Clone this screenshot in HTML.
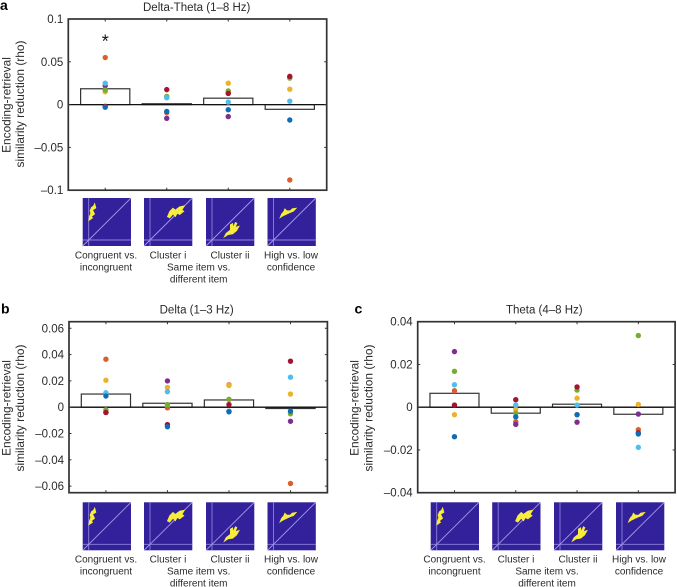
<!DOCTYPE html>
<html lang="en">
<head>
<meta charset="utf-8">
<title>Encoding-retrieval similarity reduction</title>
<style>
html,body{margin:0;padding:0;background:#fff;width:677px;height:587px;overflow:hidden}
svg{display:block;filter:blur(0.35px)}
text{font-family:"Liberation Sans",sans-serif;fill:#2a2a2a}
.cap{font-size:10px;text-anchor:middle}
.title{font-size:11.5px;text-anchor:middle}
.ylab{font-size:11.9px;text-anchor:middle}
.tick{font-size:11.5px;text-anchor:end}
.letter{font-size:14px;font-weight:bold;fill:#000}
</style>
</head>
<body>
<svg id="fig" xmlns="http://www.w3.org/2000/svg" width="677" height="587" viewBox="0 0 677 587">
  <g id="panel-a">
    <text class="letter" x="0" y="10">a</text>
    <text class="title" x="196.7" y="11">Delta-Theta (1–8 Hz)</text>
    <text class="ylab" transform="translate(10.5,105) rotate(-90)">Encoding-retrieval</text>
    <text class="ylab" transform="translate(24,104) rotate(-90)">similarity reduction (rho)</text>
    <text x="105.3" y="47.5" style="font-size:18px;text-anchor:middle;fill:#111">*</text>
    <text class="cap" x="106" y="258.3">Congruent vs.</text>
    <text class="cap" x="106" y="270.3">incongruent</text>
    <text class="cap" x="168" y="258.3">Cluster i</text>
    <text class="cap" x="230" y="258.3">Cluster ii</text>
    <text class="cap" x="198.7" y="270.3">Same item vs.</text>
    <text class="cap" x="198.7" y="282.3">different item</text>
    <text class="cap" x="291" y="258.3">High vs. low</text>
    <text class="cap" x="291" y="270.3">confidence</text>
  </g>
  <g id="panel-b">
    <text class="letter" x="1" y="313.5">b</text>
    <text class="title" x="196.7" y="313.7">Delta (1–3 Hz)</text>
    <text class="ylab" transform="translate(10.5,408) rotate(-90)">Encoding-retrieval</text>
    <text class="ylab" transform="translate(24,408) rotate(-90)">similarity reduction (rho)</text>
    <text class="cap" x="106" y="562.7">Congruent vs.</text>
    <text class="cap" x="106" y="574.7">incongruent</text>
    <text class="cap" x="168" y="562.7">Cluster i</text>
    <text class="cap" x="230" y="562.7">Cluster ii</text>
    <text class="cap" x="198.7" y="574.7">Same item vs.</text>
    <text class="cap" x="198.7" y="586.5">different item</text>
    <text class="cap" x="291" y="562.7">High vs. low</text>
    <text class="cap" x="291" y="574.7">confidence</text>
  </g>
  <g id="panel-c">
    <text class="letter" x="354.5" y="313.5">c</text>
    <text class="title" x="544.3" y="313.7">Theta (4–8 Hz)</text>
    <text class="ylab" transform="translate(358.7,408) rotate(-90)">Encoding-retrieval</text>
    <text class="ylab" transform="translate(372.5,408) rotate(-90)">similarity reduction (rho)</text>
    <text class="cap" x="454.5" y="562.7">Congruent vs.</text>
    <text class="cap" x="454.5" y="574.7">incongruent</text>
    <text class="cap" x="516" y="562.7">Cluster i</text>
    <text class="cap" x="578" y="562.7">Cluster ii</text>
    <text class="cap" x="547" y="574.7">Same item vs.</text>
    <text class="cap" x="547" y="586.5">different item</text>
    <text class="cap" x="639" y="562.7">High vs. low</text>
    <text class="cap" x="639" y="574.7">confidence</text>
  </g>
</svg>
<script>
// Data: one value per category (congruent, cluster i, cluster ii, high vs. low)
const categories = ['congruent', 'cluster-i', 'cluster-ii', 'high-low'];
const seriesNames = ['orange', 'yellow', 'purple', 'green', 'light-blue', 'dark-red', 'blue'];

const aBars = [0.0185, 0.001, 0.0075, -0.0055];
const aOrange = [0.055, -0.0095, 0.014, -0.088];
const aYellow = [0.015, 0.009, 0.025, 0.018];
const aPurple = [0.022, -0.016, -0.014, 0.032];
const aGreen = [0.017, 0.0095, 0.016, 0.031];
const aLightBlue = [0.025, 0.008, 0.003, 0.004];
const aDarkRed = [-0.002, 0.0175, 0.013, 0.033];
const aBlue = [-0.003, -0.008, -0.006, -0.018];
const aTickValues = [0.1, 0.05, 0, -0.05, -0.1];
const aTickLabels = ['0.1', '0.05', '0', '–0.05', '–0.1'];

const bBars = [0.01, 0.003, 0.0055, -0.001];
const bOrange = [0.0365, -0.0005, 0.017, -0.058];
const bYellow = [0.0205, 0.015, 0.0165, 0.01];
const bPurple = [-0.004, 0.02, -0.003, -0.0107];
const bGreen = [-0.002, 0.002, 0.006, -0.005];
const bLightBlue = [0.011, 0.0118, -0.003, 0.0228];
const bDarkRed = [-0.004, -0.0132, 0.002, 0.035];
const bBlue = [0.0085, -0.0148, -0.0035, -0.003];
const bTickValues = [0.06, 0.04, 0.02, 0, -0.02, -0.04, -0.06];
const bTickLabels = ['0.06', '0.04', '0.02', '0', '–0.02', '–0.04', '–0.06'];

const cBars = [0.0065, -0.0028, 0.0014, -0.0033];
const cOrange = [0.0077, -0.0068, -0.0035, -0.0105];
const cYellow = [-0.0035, -0.001, 0.0042, 0.0013];
const cPurple = [0.026, -0.008, -0.007, -0.0032];
const cGreen = [0.0168, -0.0028, 0.008, 0.0335];
const cLightBlue = [0.0105, 0.001, 0.001, -0.0188];
const cDarkRed = [0.001, 0.0035, 0.0095, -0.012];
const cBlue = [-0.0138, -0.0045, -0.0035, -0.0125];
const cTickValues = [0.04, 0.02, 0, -0.02, -0.04];
const cTickLabels = ['0.04', '0.02', '0', '–0.02', '–0.04'];

const seriesColors = ['#d9602a', '#edb22c', '#7e2f8e', '#77ac30', '#4dbeee', '#a2142f', '#0f6db5'];
const NS = 'http://www.w3.org/2000/svg';

function make(tag, attrs, parent) {
  const el = document.createElementNS(NS, tag);
  for (const k in attrs) el.setAttribute(k, attrs[k]);
  parent.appendChild(el);
  return el;
}

function drawPanel(key, box, yDomain, bars, series, tickValues, tickLabels) {
  const root = document.getElementById('panel-' + key);
  const xScale = i => box.x + (i + 1 - 0.4) * box.w / 4.2;
  const yScale = v => box.y + (yDomain[1] - v) / (yDomain[1] - yDomain[0]) * box.h;
  const barW = 0.8 * box.w / 4.2;
  const ink = '#333';

  bars.forEach((v, i) => {
    const r = make('rect', {
      x: xScale(i) - barW / 2, y: Math.min(yScale(v), yScale(0)),
      width: barW, height: Math.abs(yScale(v) - yScale(0)),
      fill: '#fff', stroke: ink, 'stroke-width': 1.2
    }, root);
    
    
  });

  const zero = make('line', {
    x1: box.x, x2: box.x + box.w, y1: yScale(0), y2: yScale(0), stroke: '#111', 'stroke-width': 1.3
  }, root);
  
  

  series.forEach((vals, s) => {
    vals.forEach((v, i) => {
      const c = make('circle', { cx: xScale(i), cy: yScale(v), r: 2.7, fill: seriesColors[s] }, root);
      
      
    });
  });

  const frame = make('rect', {
    x: box.x, y: box.y, width: box.w, height: box.h, fill: 'none', stroke: ink, 'stroke-width': 1.7
  }, root);
  
  

  tickValues.forEach((v, i) => {
    const y = yScale(v);
    [[box.x, box.x + 2.5], [box.x + box.w, box.x + box.w - 2.5]].forEach(p => {
      const t = make('line', { x1: p[0], x2: p[1], y1: y, y2: y, stroke: ink, 'stroke-width': 1 }, root);
      
      
    });
    const lab = make('text', { class: 'tick', x: box.x - 5, y: y + 4 }, root);
    lab.textContent = tickLabels[i];
    
    
  });

  categories.forEach((cat, i) => {
    const x = xScale(i);
    [[box.y, box.y + 2.5], [box.y + box.h, box.y + box.h - 2.5]].forEach(p => {
      const t = make('line', { x1: x, x2: x, y1: p[0], y2: p[1], stroke: ink, 'stroke-width': 1 }, root);
      
      
    });
  });
}

function drawThumbs(key, lefts, top) {
  const root = document.getElementById('panel-' + key);
  const blobs = [
    '12,5.3 13.3,10 10,12 12,16 8.7,18.7 10,20 6,22.7 6.7,18.7 8,15.3 7.3,12.7 8.7,9.3 10.7,8',
    '23.3,18.7 25.7,13.3 29,10 31.3,12 35.7,8.7 40.7,7.7 38,12 40,13.3 35.7,16.7 33.3,15.3 31.3,18.7 29,16 25.7,20',
    '18,39.3 20,35.3 24.3,32 24.3,26.7 26.7,25.3 27.3,29.3 29.3,24.3 31,25.3 29.3,29.3 33.3,28 30.7,32.7 26.7,36 22,36.7',
    '12.3,20 14,16 16.3,13.3 17.3,10.7 19.3,12.7 22.7,12.7 24.7,10.7 29,10 26,13.3 22.3,14.7 18,16.7 15.3,18'
  ];
  lefts.forEach((x, i) => {
    const g = make('g', { transform: 'translate(' + x + ',' + top + ')' }, root);
    
    
    const stroke = '#8d82dc';
    const bg = make('rect', { width: 48.3, height: 48, fill: '#33209b' }, g);
    
    
    const v = make('line', { x1: 6, x2: 6, y1: 0, y2: 48, stroke: stroke, 'stroke-width': 0.9 }, g);
    
    
    const h = make('line', { x1: 0, x2: 48.3, y1: 42, y2: 42, stroke: stroke, 'stroke-width': 0.9 }, g);
    
    
    const d = make('line', { x1: 0, x2: 48.3, y1: 48, y2: 0, stroke: '#a49ae6', 'stroke-width': 0.9 }, g);
    
    
    const b = make('polygon', { points: blobs[i], fill: '#f7ee3c', stroke: '#f7ee3c', 'stroke-width': 0.6 }, g);
    
    
  });
}

drawPanel('a', { x: 68.3, y: 19, w: 258.4, h: 171.2 }, [-0.1, 0.1], aBars,
  [aOrange, aYellow, aPurple, aGreen, aLightBlue, aDarkRed, aBlue], aTickValues, aTickLabels);
drawPanel('b', { x: 69, y: 321.7, w: 258.4, h: 171 }, [-0.065, 0.065], bBars,
  [bOrange, bYellow, bPurple, bGreen, bLightBlue, bDarkRed, bBlue], bTickValues, bTickLabels);
drawPanel('c', { x: 417.7, y: 321.7, w: 257.4, h: 171 }, [-0.04, 0.04], cBars,
  [cOrange, cYellow, cPurple, cGreen, cLightBlue, cDarkRed, cBlue], cTickValues, cTickLabels);

drawThumbs('a', [82.7, 144, 206, 267.5], 198);
drawThumbs('b', [82.7, 144, 206, 267.5], 502.3);
drawThumbs('c', [430.7, 492.2, 554, 616], 502.3);
</script>
</body>
</html>
